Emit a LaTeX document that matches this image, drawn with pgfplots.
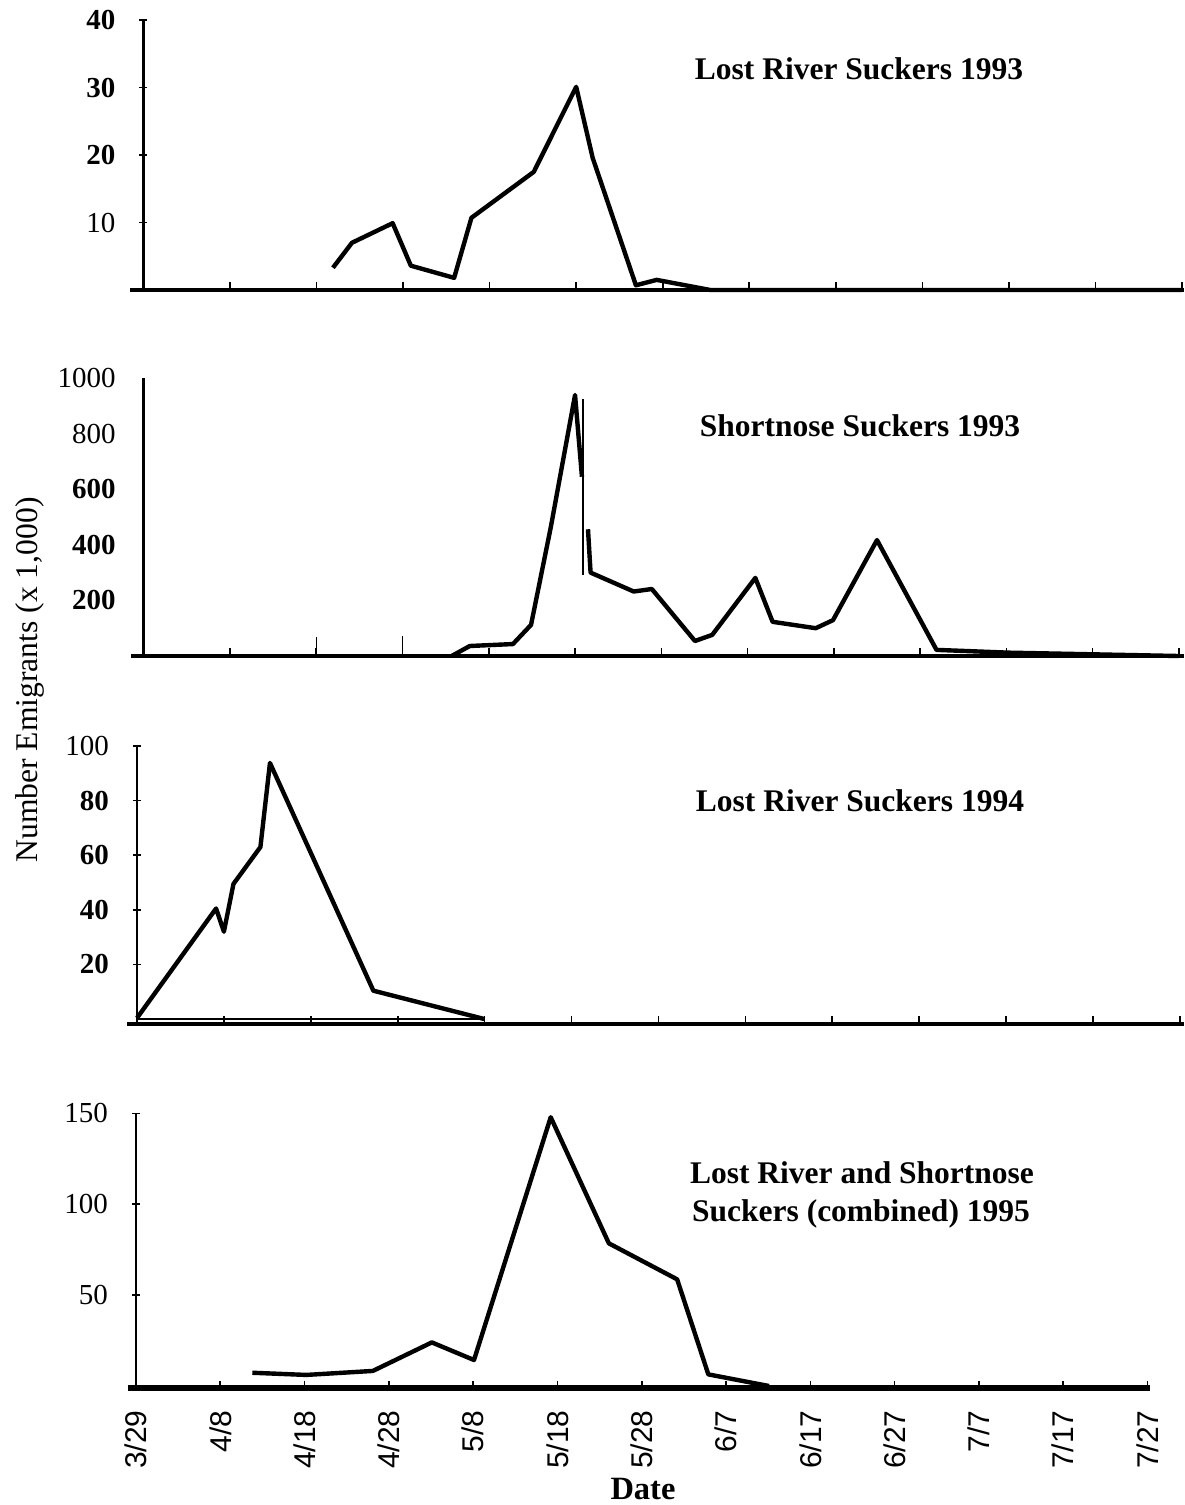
\documentclass[border=0pt]{standalone}
\usepackage{fontspec}
\setmainfont{Liberation Serif}
\setsansfont{Liberation Sans}
\usepackage{pgfplots}
\pgfplotsset{compat=1.18}
\pgfplotsset{
  panel/.style={
    scale only axis,
    axis x line*=bottom, axis y line*=left,
    xmin=0,
    xtick align=inside, ytick align=center,
    major tick length=4pt,
    tick style={black, line width=0.8pt},
    x axis line style={line width=1.6pt},
    y axis line style={line width=1.3pt},
    ticklabel style={font=\fontsize{14.5}{14.5}\selectfont},
    yticklabel shift=8.5pt,
    xtick={10,20,...,120}, xticklabels={},
    clip=false,
  },
  datal/.style={black, line width=2.2pt, line join=round, mark=none},
  thinl/.style={black, line width=0.6pt, mark=none},
}
\begin{document}
\begin{tikzpicture}
\useasboundingbox (0,0) rectangle (592pt,-752.5pt);

% Panel 1
\begin{axis}[panel, at={(71.7pt,-145pt)}, anchor=south west,
  width=520.2pt, height=135pt, xmax=120.2, ymin=0, ymax=40,
  ytick={10,20,30,40}, yticklabels={10,\textbf{20},\textbf{30},\textbf{40}}]
\addplot[datal] coordinates {(21.9,3.3)(24.1,7.0)(28.8,9.9)(30.9,3.6)(35.9,1.8)(37.9,10.7)(45.1,17.5)(50.0,30.1)(51.9,19.6)(56.9,0.7)(59.3,1.5)(65.5,0)(120,0)};
\draw[line width=1.6pt] (axis cs:-1.5,0) -- (axis cs:0,0);
\end{axis}

% Panel 2
\begin{axis}[panel, at={(71.85pt,-328pt)}, anchor=south west,
  width=520.2pt, height=139pt, xmax=120.6, ymin=0, ymax=1000,
  ytick={200,400,600,800,1000}, yticklabels={\textbf{200},\textbf{400},\textbf{600},800,1000},
  ytick style={draw=none}]
\addplot[datal] coordinates {(35.7,0)(37.8,36)(42.8,43)(44.9,112)(47.2,465)(50.0,939)(50.8,645)};
\addplot[datal] coordinates {(51.5,456)(51.8,300)(56.8,232)(58.9,241)(63.9,54)(65.9,76)(70.9,281)(72.9,123)(77.9,100)(79.9,129)(85.0,417)(91.9,22)(100.3,12)(120,0)};
\addplot[black, line width=1.1pt, mark=none] coordinates {(50.9,925)(50.9,291)};
\addplot[thinl] coordinates {(20,0)(20,70)};
\addplot[thinl] coordinates {(30,0)(30,72)};
\draw[line width=1.6pt] (axis cs:-1.5,0) -- (axis cs:0,0);
\end{axis}

% Panel 3
\begin{axis}[panel, at={(68.5pt,-512pt)}, anchor=south west,
  width=523.6pt, height=139pt, xmax=120.5, ymin=-1.8, ymax=100,
  ytick={20,40,60,80,100}, yticklabels={\textbf{20},\textbf{40},\textbf{60},\textbf{80},100}]
\addplot[datal] coordinates {(0,0.4)(9.1,40.5)(10.0,32.0)(11.1,49.5)(14.2,63.0)(15.3,93.8)(27.2,10.4)(40.0,0)};
\addplot[thinl] coordinates {(0,0)(40,0)};
\draw[line width=1.6pt] (axis cs:-1.1,-1.8) -- (axis cs:0,-1.8);
\end{axis}

% Panel 4
\begin{axis}[panel, at={(68pt,-694.5pt)}, anchor=south west,
  width=507pt, height=137.8pt, xmax=120.3, ymin=-1.65, ymax=150,
  ytick={50,100,150}, yticklabels={50,100,150},
  xtick={0,10,...,120},
  xticklabels={3/29,4/8,4/18,4/28,5/8,5/18,5/28,6/7,6/17,6/27,7/7,7/17,7/27},
  xticklabel style={font=\sffamily\fontsize{15}{15}\selectfont, rotate=90, anchor=east, inner sep=0pt},
  xticklabel shift=10.5pt,
  xlabel={\textbf{Date}},
  xlabel style={at={(rel axis cs:0.5,0)}, anchor=base, yshift=-55pt, inner sep=0pt, font=\fontsize{16.25}{18}\selectfont}]
\addplot[datal] coordinates {(13.8,7.3)(20.2,6.1)(28.1,8.3)(35.1,24.0)(40.1,14.3)(49.2,147.9)(56.1,78.5)(64.2,58.7)(67.9,6.4)(75.1,0)};
\addplot[thinl] coordinates {(-1,0)(120.3,0)};
\draw[line width=1.6pt] (axis cs:-0.95,-1.65) -- (axis cs:0,-1.65);
\end{axis}

% Titles
\node[anchor=base, inner sep=0, font=\fontsize{15.75}{18}\selectfont\bfseries] at (429.5pt,-39.75pt) {Lost River Suckers 1993};
\node[anchor=base, inner sep=0, font=\fontsize{15.75}{18}\selectfont\bfseries] at (430pt,-218pt) {Shortnose Suckers 1993};
\node[anchor=base, inner sep=0, font=\fontsize{15.75}{18}\selectfont\bfseries] at (430pt,-405.5pt) {Lost River Suckers 1994};
\node[anchor=base, inner sep=0, font=\fontsize{15.75}{18}\selectfont\bfseries] at (431pt,-591.75pt) {Lost River and Shortnose};
\node[anchor=base, inner sep=0, font=\fontsize{15.75}{18}\selectfont\bfseries] at (430.5pt,-610.5pt) {Suckers (combined) 1995};

% Shared y label
\node[rotate=90, anchor=base, inner sep=0, font=\fontsize{15.8}{18}\selectfont] at (19pt,-340pt) {Number Emigrants (x 1,000)};
\end{tikzpicture}
\end{document}
